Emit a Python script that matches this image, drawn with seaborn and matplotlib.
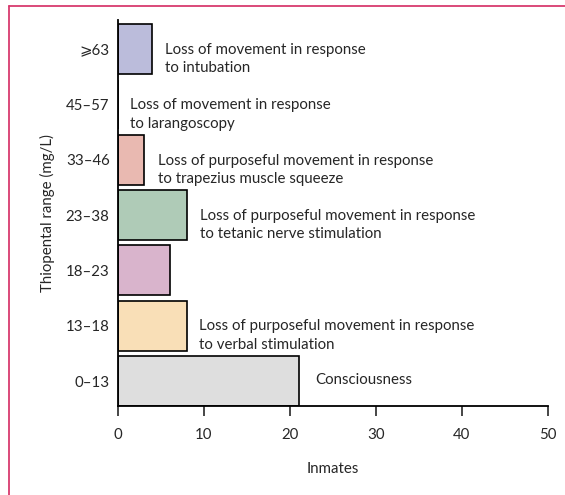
import pandas as pd
import numpy as np
import matplotlib
matplotlib.use("Agg")
import matplotlib.pyplot as plt
import seaborn as sns
from matplotlib.lines import Line2D

# ─────────────────────────────────────────
# Data
# ─────────────────────────────────────────
ranges  = ["⩾63", "45–57", "33–46", "23–38", "18–23", "13–18", "0–13"]
inmates = [4, 0, 3, 8, 6, 8, 21]
colors  = ["#bbbcdb", "#ffffff", "#e9b9b1", "#afcbb7", "#d9b4cc", "#f9dfb7", "#dedede"]
notes   = [
    "Loss of movement in response\nto intubation",
    "Loss of movement in response\nto larangoscopy",
    "Loss of purposeful movement in response\nto trapezius muscle squeeze",
    "Loss of purposeful movement in response\nto tetanic nerve stimulation",
    "",
    "Loss of purposeful movement in response\nto verbal stimulation",
    "Consciousness",
]
note_x  = [5.5, 1.4, 4.6, 9.5, 0, 9.4, 22.9]

df = pd.DataFrame({"range": ranges, "inmates": inmates})

sns.set_style("white")
plt.rcParams["font.family"] = ["Lato", "DejaVu Sans"]
FS = 10.8

fig = plt.figure(figsize=(5.65, 4.95), dpi=100)
ax = fig.add_axes([0.2088, 0.180, 0.761, 0.780])

sns.barplot(data=df, x="inmates", y="range", hue="range", order=ranges,
            palette=dict(zip(ranges, colors)), legend=False,
            width=0.9, edgecolor="black", linewidth=1.2, saturation=1, ax=ax)

# annotations right of each bar
for i, (txt, x) in enumerate(zip(notes, note_x)):
    if not txt:
        continue
    y = i + (0.18 if "\n" in txt else -0.02)
    ax.text(x, y, txt, va="center", ha="left", fontsize=FS, linespacing=1.4)

ax.set_xlim(0, 50)
ax.set_ylim(6.45, -0.53)
ax.set_xticks([0, 10, 20, 30, 40, 50])
ax.tick_params(axis="x", direction="out", length=7, width=1.2, bottom=True,
               pad=9, labelsize=FS)
ax.tick_params(axis="y", length=0, pad=6, labelsize=FS)
ax.set_xlabel("Inmates", fontsize=FS, labelpad=14)
ax.set_ylabel("Thiopental range (mg/L)", fontsize=FS, labelpad=8)
sns.despine(ax=ax)
for s in ["left", "bottom"]:
    ax.spines[s].set_linewidth(1.3)
    ax.spines[s].set_color("black")

# pink frame (top + left)
fig.add_artist(Line2D([0.016, 1.0], [0.988, 0.988], color="#d83a6e", lw=1.3))
fig.add_artist(Line2D([0.016, 0.016], [0.0, 0.988], color="#d83a6e", lw=1.3))

plt.savefig("out.png", dpi=100)
